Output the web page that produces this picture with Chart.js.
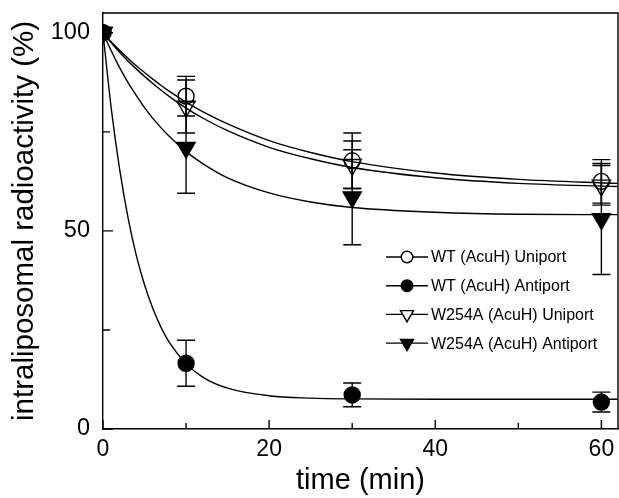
<!DOCTYPE html>
<html>
<head>
<meta charset="utf-8">
<script src="https://cdn.jsdelivr.net/npm/chart.js@4/dist/chart.umd.min.js"></script>
<style>
  html, body { margin: 0; padding: 0; background: #fff; }
  #wrap { width: 619px; height: 498px; }
</style>
</head>
<body>
<div id="wrap"><canvas id="c" width="619" height="498"></canvas></div>
<script>
// measured points (time in min, % remaining)
var times = [0, 10, 30, 60];
var wtUni = [100, 84, 67.7, 62.5];
var wtUniErr = [0, 5, 7, 5.5];
var wtAnti = [100, 16.6, 8.6, 6.8];
var wtAntiErr = [0, 5.8, 3, 2.5];
var mutUni = [100, 81.4, 66.7, 61.5];
var mutUniErr = [0, 6.7, 6, 5];
var mutAnti = [100, 71, 58.5, 53];
var mutAntiErr = [0, 11.5, 12, 14];

// fitted curves
var fitTimes = [0, 1, 2, 3, 4, 5, 6, 7, 8, 10, 12, 15, 20, 25, 30, 40, 50, 62];
var fitWtUni = [100, 97.7, 95.6, 93.6, 91.7, 90.0, 88.3, 86.7, 85.2, 82.5, 80.1, 77.0, 72.8, 69.8, 67.5, 64.6, 63.0, 62.0];
var fitWtAnti = [100, 80.8, 65.6, 53.5, 43.9, 36.4, 30.4, 25.6, 21.8, 16.5, 13.1, 10.3, 8.4, 7.8, 7.6, 7.5, 7.5, 7.5];
var fitMutUni = [100, 97.5, 95.1, 92.9, 90.9, 89.0, 87.2, 85.5, 83.9, 81.0, 78.5, 75.3, 71.1, 68.2, 66.0, 63.4, 62.0, 61.2];
var fitMutAnti = [100, 95.4, 91.2, 87.5, 84.2, 81.1, 78.4, 76.0, 73.8, 70.0, 67.0, 63.4, 59.6, 57.3, 55.9, 54.7, 54.2, 54.1];

var xTicks = [0, 20, 40, 60];
var xMinor = [10, 30, 50];
var yTicks = [0, 50, 100];
var yMinor = [25, 75];

var FONT = '"Liberation Sans", Arial, sans-serif';

var pts = function(xs, ys){
    var out = [];
    for (var i = 0; i < xs.length; i++) out.push({x: xs[i], y: ys[i]});
    return out;
};

var series = [
    {label: 'WT (AcuH) Uniport', y: wtUni, err: wtUniErr, fit: fitWtUni, style: 'circle', fill: false},
    {label: 'WT (AcuH) Antiport', y: wtAnti, err: wtAntiErr, fit: fitWtAnti, style: 'circle', fill: true},
    {label: 'W254A (AcuH) Uniport', y: mutUni, err: mutUniErr, fit: fitMutUni, style: 'triangle', fill: false},
    {label: 'W254A (AcuH) Antiport', y: mutAnti, err: mutAntiErr, fit: fitMutAnti, style: 'triangle', fill: true}
];

var datasets = [];
series.forEach(function(s, i){
    datasets.push({
        label: s.label + ' fit',
        data: pts(fitTimes, s.fit),
        showLine: true,
        borderColor: '#000',
        borderWidth: 1.4,
        pointRadius: 0,
        cubicInterpolationMode: 'monotone',
        order: 20
    });
});
series.forEach(function(s, i){
    datasets.push({
        label: s.label,
        data: pts(times, s.y),
        showLine: false,
        pointStyle: s.style,
        pointRotation: s.style == 'triangle' ? 180 : 0,
        pointRadius: s.style == 'triangle' ? 10.5 : 8,
        pointBackgroundColor: s.fill ? '#000' : 'rgba(0,0,0,0)',
        pointBorderColor: '#000',
        pointBorderWidth: 1.4,
        errs: s.err,
        isMarker: true,
        markerFill: s.fill,
        order: 10 - i
    });
});

var drawMarker = function(ctx, style, fill, x, y, r){
    ctx.beginPath();
    if (style == 'circle') {
        ctx.arc(x, y, r, 0, Math.PI * 2);
    } else {
        ctx.moveTo(x - r * 0.866, y - r * 0.5);
        ctx.lineTo(x + r * 0.866, y - r * 0.5);
        ctx.lineTo(x, y + r);
        ctx.closePath();
    }
    ctx.fillStyle = fill ? '#000' : '#fff';
    ctx.fill();
    ctx.stroke();
};

var extras = {
    id: 'extras',
    beforeDatasetsDraw: function(chart){
        var ctx = chart.ctx;
        var xs = chart.scales.x, ys = chart.scales.y;
        ctx.save();
        ctx.strokeStyle = '#000';
        ctx.lineWidth = 1.4;
        chart.data.datasets.forEach(function(ds){
            if (!ds.isMarker) return;
            ds.data.forEach(function(p, j){
                var e = ds.errs[j];
                if (!e) return;
                var px = xs.getPixelForValue(p.x);
                var top = ys.getPixelForValue(p.y + e);
                var bot = ys.getPixelForValue(p.y - e);
                ctx.beginPath();
                ctx.moveTo(px, top); ctx.lineTo(px, bot);
                ctx.moveTo(px - 9, top); ctx.lineTo(px + 9, top);
                ctx.moveTo(px - 9, bot); ctx.lineTo(px + 9, bot);
                ctx.stroke();
            });
        });
        ctx.restore();
    },
    afterDraw: function(chart){
        var ctx = chart.ctx;
        var a = chart.chartArea;
        var xs = chart.scales.x, ys = chart.scales.y;
        ctx.save();
        ctx.strokeStyle = '#000';
        ctx.lineWidth = 1.4;
        // frame top / right
        ctx.beginPath();
        ctx.moveTo(a.left, a.top); ctx.lineTo(a.right, a.top); ctx.lineTo(a.right, a.bottom);
        ctx.stroke();
        // inward ticks
        ctx.beginPath();
        xTicks.concat(xMinor).forEach(function(v){
            var px = xs.getPixelForValue(v);
            var len = xMinor.indexOf(v) >= 0 ? 6 : 9;
            ctx.moveTo(px, a.bottom); ctx.lineTo(px, a.bottom - len);
        });
        yTicks.concat(yMinor).forEach(function(v){
            var py = ys.getPixelForValue(v);
            var len = yMinor.indexOf(v) >= 0 ? 7 : 10;
            ctx.moveTo(a.left, py); ctx.lineTo(a.left + len, py);
        });
        ctx.stroke();

        // legend
        ctx.font = '16px ' + FONT;
        ctx.textBaseline = 'middle';
        ctx.textAlign = 'left';
        var lx = a.left + 283, ly = a.top + 244, step = 28.7;
        chart.data.datasets.filter(function(d){ return d.isMarker; }).forEach(function(ds, i){
            var y = ly + i * step;
            ctx.beginPath();
            ctx.moveTo(lx, y); ctx.lineTo(lx + 42, y);
            ctx.stroke();
            var r = ds.pointStyle == 'triangle' ? 7.5 : 5.8;
            drawMarker(ctx, ds.pointStyle, ds.markerFill, lx + 21, y, r);
            ctx.fillStyle = '#000';
            ctx.fillText(ds.label, lx + 45, y + 1);
        });
        ctx.restore();
    }
};

new Chart(document.getElementById('c'), {
    type: 'scatter',
    data: {datasets: datasets},
    plugins: [extras],
    options: {
        responsive: false,
        animation: false,
        events: [],
        layout: {autoPadding: false, padding: {top: 13, right: 1, left: 0, bottom: 0}},
        plugins: {legend: {display: false}, tooltip: {enabled: false}},
        scales: {
            x: {
                type: 'linear',
                min: 0, max: 62,
                afterFit: function(s){ s.height = 69; s.paddingLeft = 0; s.paddingRight = 0; },
                afterBuildTicks: function(s){ s.ticks = xTicks.map(function(v){ return {value: v}; }); },
                grid: {display: false, drawTicks: false},
                border: {display: true, color: '#000', width: 1.4},
                ticks: {color: '#000', padding: 7, font: {size: 23, family: FONT}, maxRotation: 0},
                title: {display: true, text: 'time (min)', color: '#000', font: {size: 29, family: FONT}, padding: {top: 0, bottom: 0}}
            },
            y: {
                type: 'linear',
                min: 0, max: 105,
                afterFit: function(s){ s.width = 103; s.paddingTop = 0; s.paddingBottom = 0; },
                afterBuildTicks: function(s){ s.ticks = yTicks.map(function(v){ return {value: v}; }); },
                grid: {display: false, drawTicks: false},
                border: {display: true, color: '#000', width: 1.4},
                ticks: {color: '#000', padding: 13, font: {size: 23.5, family: FONT}},
                title: {display: true, text: 'intraliposomal radioactivity (%)', color: '#000', font: {size: 29.5, family: FONT}, padding: {top: 7, bottom: 0}}
            }
        }
    }
});
</script>
</body>
</html>
